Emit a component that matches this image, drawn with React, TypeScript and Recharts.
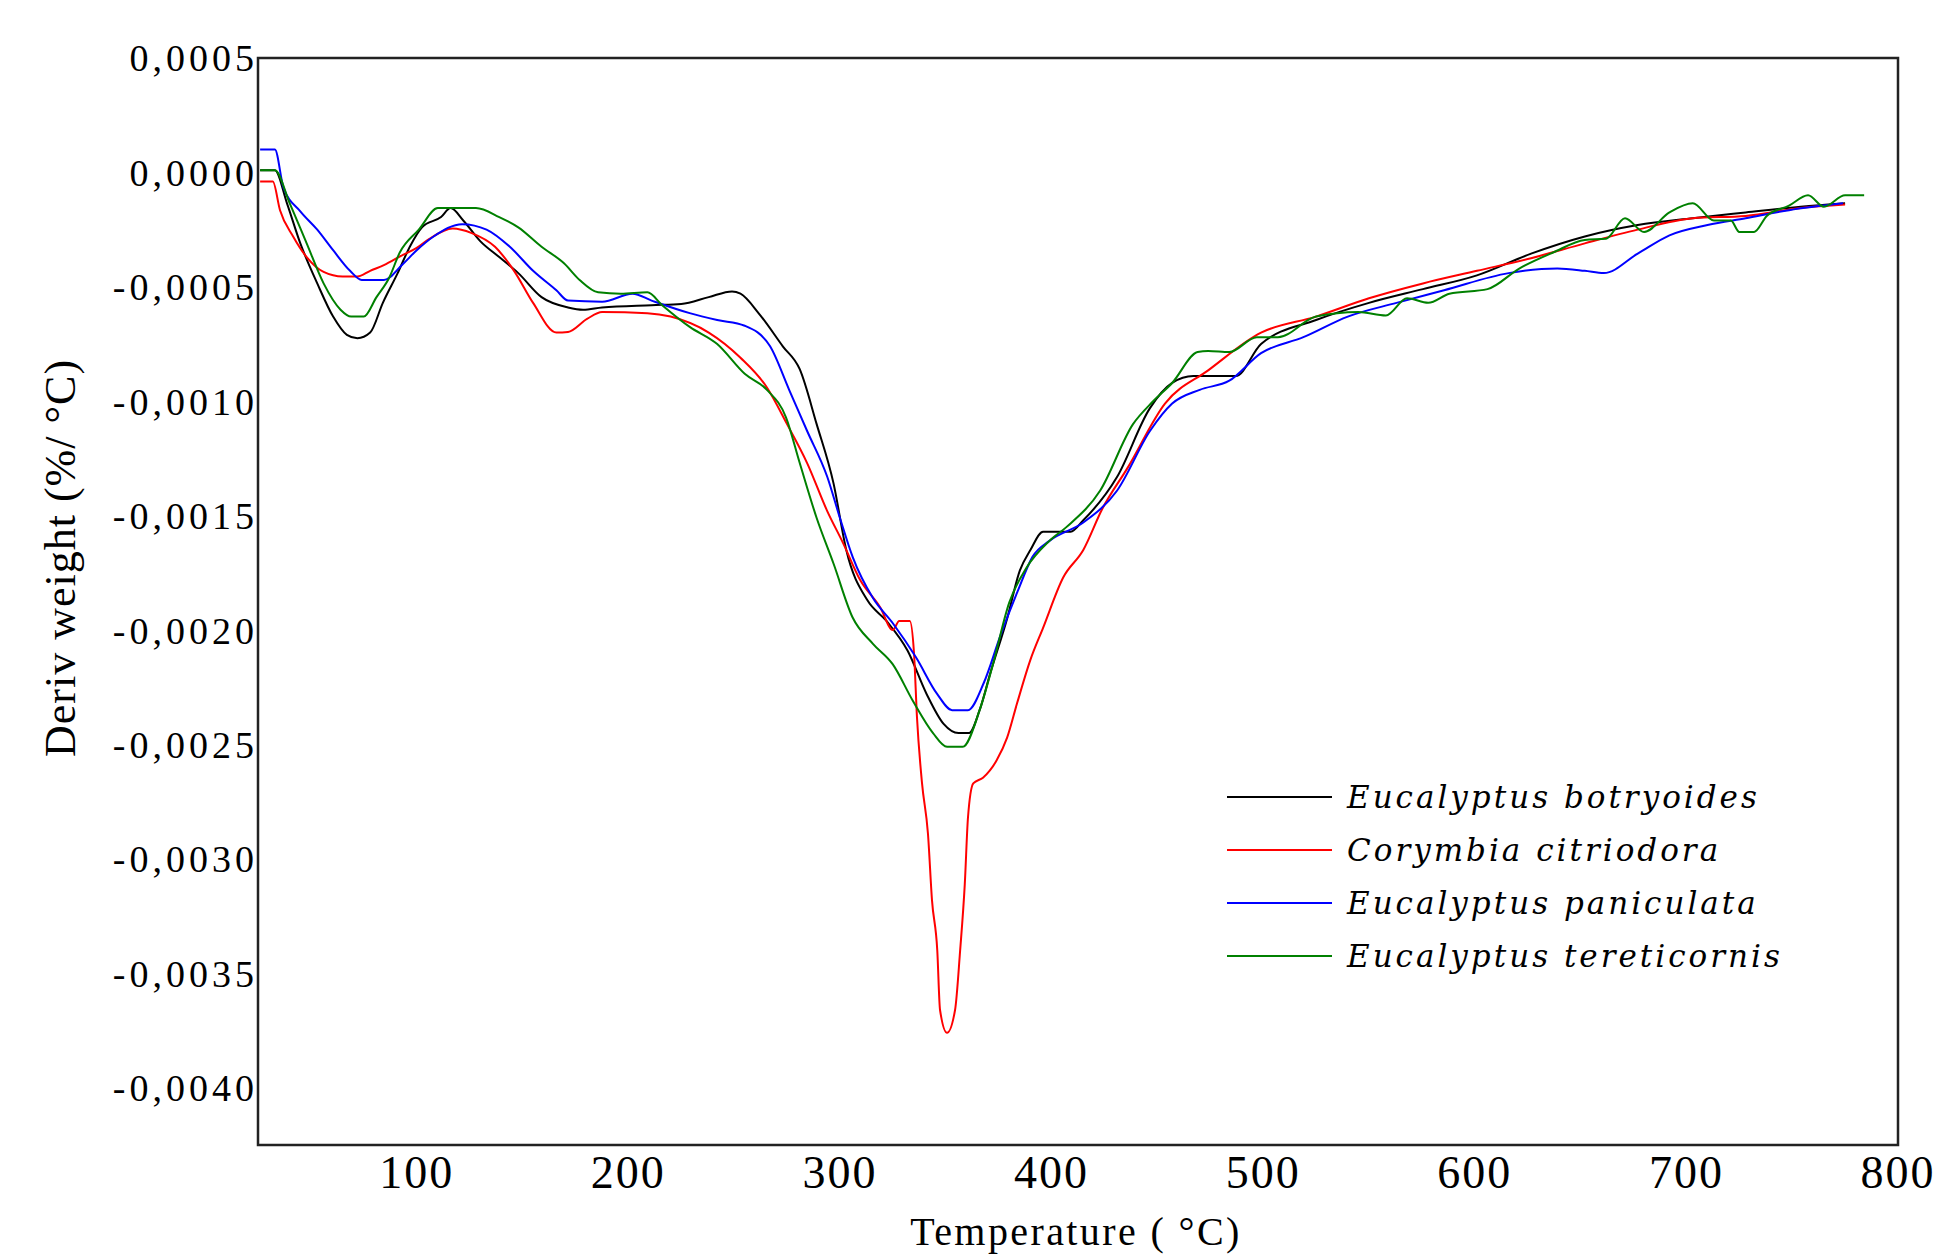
import { LineChart, Line, XAxis, YAxis, ReferenceArea, Legend } from 'recharts';

// DTG curves, deriv weight in %/°C vs temperature in °C
const xTicks = [100, 200, 300, 400, 500, 600, 700, 800];
const yTicks = [0.0005, 0, -0.0005, -0.001, -0.0015, -0.002, -0.0025, -0.003, -0.0035, -0.004];

const botryoidesT = [26, 33, 38.7, 45, 53, 60.5, 67, 72, 78, 84, 91, 97, 102.5, 111.5, 116, 122, 130, 139, 148, 159, 171.5, 178.6, 187.6, 211, 225, 238, 249, 253, 262, 273, 281, 289, 297, 303, 313, 322, 332, 341, 349, 356, 361, 366, 371, 379, 385, 390, 396, 409, 415, 431, 446.5, 457, 467, 487, 499, 525, 550, 575.5, 601, 626.6, 652, 677, 703, 728, 754, 775];
const botryoidesV = [1e-5, 1e-5, -1.35e-4, -3.1e-4, -4.85e-4, -6.3e-4, -7.1e-4, -7.25e-4, -7.0e-4, -5.7e-4, -4.4e-4, -3.2e-4, -2.4e-4, -1.95e-4, -1.56e-4, -2.1e-4, -3.0e-4, -3.7e-4, -4.4e-4, -5.45e-4, -5.9e-4, -6.0e-4, -5.9e-4, -5.8e-4, -5.75e-4, -5.45e-4, -5.2e-4, -5.3e-4, -6.2e-4, -7.6e-4, -8.6e-4, -11.0e-4, -13.6e-4, -16.5e-4, -18.7e-4, -19.6e-4, -20.9e-4, -22.8e-4, -24.1e-4, -24.5e-4, -24.5e-4, -23.5e-4, -21.9e-4, -19.5e-4, -17.4e-4, -16.5e-4, -15.7e-4, -15.7e-4, -15.2e-4, -13.3e-4, -10.3e-4, -9.2e-4, -8.9e-4, -8.9e-4, -7.5e-4, -6.45e-4, -5.7e-4, -5.1e-4, -4.5e-4, -3.55e-4, -2.8e-4, -2.3e-4, -2.0e-4, -1.75e-4, -1.5e-4, -1.35e-4];

const citriodoraT = [26, 32, 35.4, 41.6, 48, 56, 65, 72, 78, 84.5, 93.5, 100, 106, 117, 126, 137, 146, 155, 166, 171.5, 180.5, 187.6, 209, 220, 238, 253, 265.5, 275, 284.5, 294, 301.5, 309.5, 319, 325, 328, 333, 335, 336.4, 338.8, 341.6, 343.5, 346, 347.3, 350.6, 354.4, 356.8, 359, 360.5, 363, 367.6, 374, 379, 383.7, 390, 396, 405.5, 415, 424, 436, 453.6, 474, 499, 525, 550, 575.5, 601, 626.6, 652, 677, 703, 728, 754, 775];
const citriodoraV = [-0.4e-4, -0.4e-4, -1.65e-4, -2.8e-4, -3.7e-4, -4.35e-4, -4.55e-4, -4.55e-4, -4.3e-4, -4.05e-4, -3.6e-4, -3.3e-4, -2.9e-4, -2.45e-4, -2.65e-4, -3.25e-4, -4.3e-4, -5.7e-4, -7.0e-4, -6.97e-4, -6.4e-4, -6.1e-4, -6.15e-4, -6.3e-4, -7.0e-4, -8.1e-4, -9.4e-4, -11.0e-4, -12.7e-4, -14.8e-4, -16.2e-4, -17.8e-4, -19.0e-4, -20.0e-4, -19.6e-4, -19.6e-4, -21.0e-4, -23.8e-4, -26.7e-4, -28.9e-4, -31.8e-4, -34.0e-4, -36.6e-4, -37.6e-4, -36.6e-4, -34.0e-4, -31.1e-4, -28.2e-4, -26.7e-4, -26.45e-4, -25.7e-4, -24.7e-4, -23.2e-4, -21.3e-4, -19.9e-4, -17.7e-4, -16.5e-4, -14.7e-4, -12.9e-4, -10.1e-4, -8.65e-4, -7.0e-4, -6.3e-4, -5.5e-4, -4.85e-4, -4.3e-4, -3.75e-4, -3.1e-4, -2.5e-4, -2.0e-4, -1.9e-4, -1.55e-4, -1.4e-4];

const paniculataT = [26, 33, 37, 45, 53, 60.5, 68.5, 74, 84.5, 93.5, 100, 108, 121.5, 133, 144, 155, 166, 171.5, 187.6, 202, 211, 229, 242, 255, 267, 276, 284.5, 294, 300, 306, 315.6, 325, 336, 346, 353, 360.5, 368, 376, 384, 391, 399, 415, 431, 446.5, 457, 470, 484, 499, 519, 540, 563, 585.5, 616, 639, 652, 661, 677, 692, 710, 728, 748.5, 774];
const paniculataV = [1.0e-4, 1.0e-4, -0.65e-4, -1.7e-4, -2.5e-4, -3.4e-4, -4.3e-4, -4.7e-4, -4.7e-4, -4.0e-4, -3.4e-4, -2.8e-4, -2.26e-4, -2.5e-4, -3.25e-4, -4.3e-4, -5.15e-4, -5.6e-4, -5.65e-4, -5.3e-4, -5.6e-4, -6.15e-4, -6.45e-4, -6.7e-4, -7.6e-4, -9.5e-4, -11.3e-4, -13.3e-4, -15.1e-4, -16.8e-4, -18.6e-4, -19.7e-4, -21.2e-4, -22.8e-4, -23.5e-4, -23.5e-4, -22.3e-4, -20.2e-4, -18.3e-4, -16.8e-4, -16.1e-4, -15.3e-4, -13.9e-4, -11.3e-4, -10.1e-4, -9.5e-4, -9.1e-4, -7.9e-4, -7.2e-4, -6.3e-4, -5.7e-4, -5.15e-4, -4.4e-4, -4.2e-4, -4.3e-4, -4.4e-4, -3.55e-4, -2.75e-4, -2.3e-4, -2.0e-4, -1.65e-4, -1.35e-4];

const tereticornisT = [26, 33, 40, 48, 56, 64, 69, 75, 81, 87, 92, 101, 110, 128, 139, 148, 159, 169.6, 177, 185.7, 196.5, 209, 216, 229, 242, 255, 265.5, 274.5, 281, 289, 297, 306, 315.6, 325, 334.5, 344, 350.6, 358, 366, 372, 380, 388, 399, 407, 423, 438.5, 448, 457, 469, 474, 484, 497, 507, 525, 545, 558, 568, 578, 588, 606, 621, 637, 652, 662, 671, 680, 692, 703, 713, 721, 725, 732, 738, 748.5, 757.5, 765, 775, 784];
const tereticornisV = [1e-5, 1e-5, -1.35e-4, -3.1e-4, -4.85e-4, -6.0e-4, -6.3e-4, -6.3e-4, -5.45e-4, -4.6e-4, -3.5e-4, -2.5e-4, -1.56e-4, -1.56e-4, -1.95e-4, -2.4e-4, -3.25e-4, -3.97e-4, -4.7e-4, -5.24e-4, -5.3e-4, -5.24e-4, -5.8e-4, -6.75e-4, -7.5e-4, -8.8e-4, -9.5e-4, -10.7e-4, -12.7e-4, -15.1e-4, -17.1e-4, -19.45e-4, -20.6e-4, -21.5e-4, -23.1e-4, -24.5e-4, -25.1e-4, -25.1e-4, -23.5e-4, -21.6e-4, -18.8e-4, -17.3e-4, -16.1e-4, -15.5e-4, -13.9e-4, -11.0e-4, -10.0e-4, -9.2e-4, -7.85e-4, -7.8e-4, -7.85e-4, -7.2e-4, -7.2e-4, -6.3e-4, -6.1e-4, -6.25e-4, -5.5e-4, -5.7e-4, -5.3e-4, -5.1e-4, -4.2e-4, -3.5e-4, -2.95e-4, -2.9e-4, -2.0e-4, -2.6e-4, -1.75e-4, -1.35e-4, -2.1e-4, -2.1e-4, -2.6e-4, -2.6e-4, -1.9e-4, -1.45e-4, -1.0e-4, -1.5e-4, -1.0e-4, -1.0e-4];

const toPoints = (ts: number[], vs: number[]) => ts.map((t, i) => ({ t, v: vs[i] }));

const series = [
  { name: 'Eucalyptus botryoides', color: '#000000', data: toPoints(botryoidesT, botryoidesV) },
  { name: 'Corymbia citriodora', color: '#ff0000', data: toPoints(citriodoraT, citriodoraV) },
  { name: 'Eucalyptus paniculata', color: '#0000ff', data: toPoints(paniculataT, paniculataV) },
  { name: 'Eucalyptus tereticornis', color: '#008000', data: toPoints(tereticornisT, tereticornisV) },
];

const serif = '"Liberation Serif", "Times New Roman", serif';

const fmtY = (v: number) => v.toFixed(4).replace('.', ',');

const renderLegend = () => (
  <div style={{ fontFamily: '"DejaVu Serif", serif', fontStyle: 'italic', fontSize: 31, letterSpacing: 3, color: '#000' }}>
    {series.map((s) => (
      <div key={s.name} style={{ display: 'flex', alignItems: 'center', height: 53 }}>
        <div style={{ width: 105, height: 2, background: s.color }} />
        <span style={{ marginLeft: 15, whiteSpace: 'nowrap' }}>{s.name}</span>
      </div>
    ))}
  </div>
);

export default function App() {
  return (
    <div style={{ position: 'absolute', left: 0, top: 0, background: '#fff' }}>
      <LineChart width={1944} height={1257} margin={{ top: 58, right: 46, bottom: 52, left: 0 }}>
        <XAxis
          type="number"
          dataKey="t"
          domain={[25, 800]}
          ticks={xTicks}
          allowDataOverflow
          axisLine={false}
          tickLine={false}
          tickSize={0}
          tickMargin={10}
          height={60}
          tick={{ fontFamily: serif, fontSize: 46, fill: '#000', letterSpacing: 2 }}
          label={{
            content: () => (
              <text x={1076} y={1245} textAnchor="middle" fontFamily={serif} fontSize={40} letterSpacing={2.4} fill="#000">
                Temperature ( °C)
              </text>
            ),
          }}
        />
        <YAxis
          type="number"
          domain={[-0.00425, 0.0005]}
          ticks={yTicks}
          allowDataOverflow
          axisLine={false}
          tickLine={false}
          tickSize={0}
          tickMargin={0}
          width={258}
          tickFormatter={fmtY}
          tick={{ fontFamily: serif, fontSize: 38, fill: '#000', letterSpacing: 4 }}
          label={{
            content: () => (
              <text x={75} y={558} transform="rotate(-90 75 558)" textAnchor="middle" fontFamily={serif} fontSize={44} letterSpacing={1} fill="#000">
                Deriv weight (%/ °C)
              </text>
            ),
          }}
        />
        {series.map((s) => (
          <Line
            key={s.name}
            data={s.data}
            dataKey="v"
            name={s.name}
            type="monotone"
            stroke={s.color}
            strokeWidth={2}
            dot={false}
            activeDot={false}
            isAnimationActive={false}
          />
        ))}
        <ReferenceArea x1={25} x2={800} y1={-0.00425} y2={0.0005} fill="none" stroke="#222" strokeWidth={2.5} />
        <Legend
          layout="vertical"
          align="center"
          verticalAlign="middle"
          content={renderLegend}
          wrapperStyle={{ left: 1227, top: 770, width: 640 }}
        />
      </LineChart>
    </div>
  );
}
